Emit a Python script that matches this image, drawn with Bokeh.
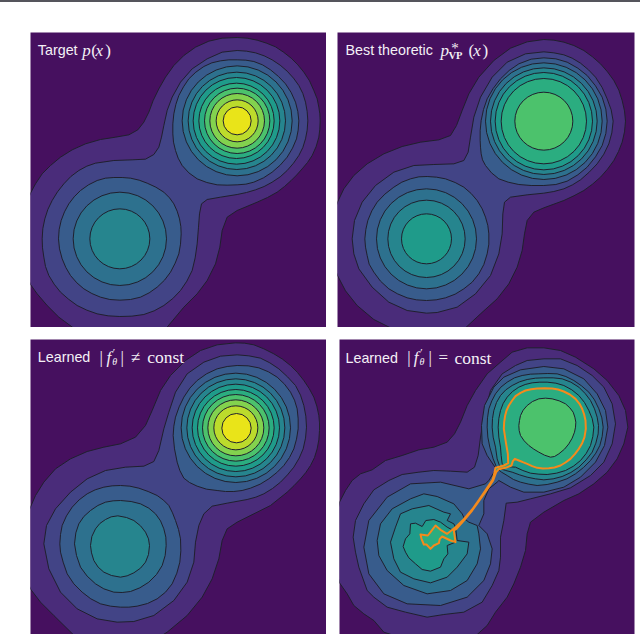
from bokeh.embed import file_html
from bokeh.resources import INLINE
from bokeh.models import ColumnDataSource, Range1d, Div
from bokeh.layouts import column, row
from bokeh.plotting import figure

# Band colours (level 0 = background ... level 11 = peak)
BAND = ["#46105f", "#4a2c7a", "#424486", "#385c8c", "#2d718e", "#26858e",
        "#1f9b8a", "#2bad80", "#4cc26c", "#83d24e", "#bcdb2c", "#e9e419"]
CONTOUR = "#20202e"
ORANGE = "#f58a1c"

# ---------- Panel 1: Target p(x) (coordinates in 1/3 px of the picture)
P1_L1 = [(90,578),(105,550),(125,520),(150,495),(180,470),(215,448),(255,430),(300,417),(345,410),(385,403),(412,388),(430,365),(445,335),(458,300),(475,265),(495,230),(520,195),(550,165),(585,140),(625,122),(665,113),(710,111),(740,113),(770,119),(798,128),(825,139),(849,155),(872,173),(892,193),(910,215),(927,241),(940,270),(950,295),(955,320),(958,340),(959,361),(958,386),(955,410),(947,438),(935,465),(921,486),(905,505),(889,523),(872,540),(852,558),(830,575),(801,591),(770,605),(710,630),(680,650),(665,690),(658,740),(645,790),(620,840),(590,880),(550,920),(499,981),(430,1005),(358,1016),(290,1008),(217,981),(175,950),(140,915),(110,880),(90,852),(70,800),(57,715),(70,630)]
P1_L2 = [(125,715),(127,684),(133,655),(142,627),(155,600),(171,574),(190,550),(211,528),(235,510),(259,497),(285,488),(340,480),(395,478),(435,476),(460,462),(475,440),(483,410),(490,375),(500,330),(515,290),(540,245),(575,205),(620,175),(665,155),(710,150),(738,152),(765,157),(791,166),(815,178),(839,194),(860,212),(879,233),(895,255),(907,279),(915,305),(920,333),(922,361),(920,389),(915,415),(907,441),(895,465),(879,488),(860,510),(839,529),(815,545),(791,558),(765,568),(738,576),(710,582),(660,590),(620,597),(603,610),(597,640),(594,680),(590,730),(584,772),(575,810),(559,842),(540,870),(517,894),(490,915),(461,931),(430,942),(394,947),(358,948),(323,946),(290,940),(259,929),(230,915),(204,896),(180,875),(161,851),(145,825),(135,798),(130,770),(126,742)]
P1_L3A = [(174,715),(176,687),(182,660),(192,634),(205,610),(221,589),(240,570),(264,553),(290,540),(315,533),(340,531),(365,531),(390,533),(416,539),(440,548),(466,560),(490,575),(507,592),(520,610),(530,632),(537,655),(541,678),(542,700),(540,731),(535,760),(524,788),(510,815),(492,839),(470,860),(446,877),(420,890),(390,897),(358,899),(328,897),(300,890),(274,879),(250,865),(229,847),(210,825),(196,801),(185,775),(177,745)]
P1_L3B = [(517,400),(517,370),(520,340),(526,312),(535,285),(549,259),(565,235),(586,215),(610,198),(634,187),(660,181),(685,178),(710,178),(736,179),(760,183),(786,193),(810,208),(834,228),(855,250),(872,276),(885,305),(892,333),(895,361),(893,389),(888,415),(876,443),(860,470),(839,494),(815,515),(789,532),(760,545),(736,551),(710,553),(680,554),(650,553),(619,546),(590,535),(565,517),(545,495),(533,473),(525,450),(519,425)]
P1_LEFT = [(4, 358, 715, 140), (5, 358, 715, 90)]
P1_RIGHT = [(4, 710, 361, 165), (5, 709, 361, 146), (6, 708, 361, 130), (7, 708, 361, 113), (8, 710, 361, 98), (9, 710, 361, 82), (10, 710, 361, 63), (11, 710, 361, 42)]

# ---------- Panel 2: Best theoretic
P2_L1 = [(21,545),(40,505),(70,465),(110,430),(160,400),(215,378),(270,365),(325,358),(360,345),(378,315),(395,270),(415,220),(445,170),(490,120),(540,83),(590,64),(640,57),(670,59),(700,65),(730,75),(760,90),(786,109),(810,130),(831,154),(850,180),(865,209),(875,240),(882,271),(885,302),(882,334),(875,365),(864,393),(850,420),(831,446),(810,470),(786,491),(760,510),(730,526),(700,540),(640,562),(610,575),(590,600),(582,640),(575,690),(560,740),(535,790),(500,835),(450,880),(405,922),(340,940),(288,944),(236,940),(180,922),(130,897),(80,855),(45,811),(21,765),(5,720),(-1,655),(5,590)]
P2_L2 = [(65,655),(72,600),(95,545),(135,495),(190,455),(250,435),(310,432),(370,430),(400,420),(413,395),(420,350),(430,290),(450,230),(485,170),(530,125),(585,100),(640,94),(670,97),(700,103),(725,113),(750,128),(774,148),(795,170),(815,201),(830,235),(842,268),(848,302),(844,337),(835,370),(820,401),(800,430),(776,455),(750,478),(726,493),(700,505),(670,513),(640,518),(590,523),(540,530),(522,545),(517,580),(515,640),(505,700),(480,765),(435,820),(380,860),(320,876),(288,878),(230,870),(175,845),(125,800),(85,745),(70,700)]
P2_L3A = [(103,655),(106,627),(112,600),(124,571),(140,545),(163,521),(190,500),(214,485),(240,475),(265,469),(290,468),(318,470),(345,475),(374,486),(400,500),(422,519),(440,540),(455,565),(465,590),(472,615),(475,640),(475,671),(470,700),(460,732),(445,760),(425,785),(400,805),(374,821),(345,832),(317,838),(288,840),(258,838),(230,832),(201,820),(175,805),(150,782),(130,755),(116,731),(110,705),(105,680)]
P2_L3B = [(449,360),(449,330),(452,300),(459,267),(470,235),(488,204),(510,175),(536,150),(565,130),(602,116),(640,112),(676,115),(710,125),(742,143),(770,165),(795,196),(815,230),(826,266),(830,302),(826,339),(815,375),(795,409),(770,440),(742,463),(710,482),(676,492),(640,495),(602,495),(565,492),(533,485),(505,475),(483,457),(465,435),(456,418),(452,400),(450,380)]
P2_LEFT = [(4, 288, 655, 150), (5, 288, 655, 116), (6, 288, 655, 75)]
P2_RIGHT = [(4, 640, 302, 175), (5, 640, 302, 160), (6, 640, 302, 146), (7, 640, 302, 128), (8, 640, 302, 87)]

# ---------- Panel 3: Learned, not constant
P3_L1 = [(31,512),(45,480),(70,440),(105,400),(150,370),(200,348),(250,335),(300,325),(345,305),(375,270),(395,225),(420,165),(450,120),(495,75),(540,45),(590,28),(645,22),(672,23),(700,28),(730,40),(760,55),(786,71),(810,90),(831,111),(850,135),(866,159),(880,185),(889,212),(895,240),(897,262),(897,285),(895,313),(890,340),(882,366),(870,390),(856,411),(840,430),(821,450),(800,470),(750,510),(700,535),(650,560),(620,580),(605,615),(595,670),(575,730),(545,785),(500,840),(440,890),(400,915),(300,930),(200,915),(158,897),(100,840),(60,800),(31,762),(5,700),(0,620),(10,560)]
P3_L2 = [(70,625),(78,570),(105,520),(150,470),(200,430),(255,405),(315,395),(370,392),(400,378),(415,345),(430,280),(445,230),(465,170),(500,115),(550,80),(600,62),(650,58),(685,61),(720,68),(748,82),(775,100),(801,124),(825,150),(840,179),(850,210),(856,242),(858,275),(855,308),(848,340),(836,368),(820,395),(801,418),(780,440),(756,459),(730,475),(706,485),(680,492),(620,503),(575,512),(550,535),(535,570),(525,620),(520,680),(500,740),(460,795),(400,840),(340,858),(290,860),(230,850),(170,820),(120,770),(85,700)]
P3_L3A = [(118,625),(120,597),(125,570),(138,541),(155,515),(176,493),(200,475),(224,463),(250,455),(275,451),(300,450),(328,452),(355,458),(383,468),(410,480),(429,494),(445,510),(456,532),(465,555),(474,582),(480,610),(481,646),(478,680),(469,713),(455,745),(435,770),(410,790),(381,804),(350,812),(325,815),(300,815),(270,812),(240,805),(211,790),(185,770),(160,745),(140,715),(128,680),(120,650)]
P3_L3B = [(458,300),(460,272),(465,245),(476,214),(490,185),(508,158),(530,135),(558,115),(590,100),(620,93),(650,90),(683,91),(715,97),(744,109),(770,125),(792,146),(810,170),(822,194),(830,220),(833,250),(833,280),(828,311),(820,340),(807,366),(790,390),(769,411),(745,430),(719,446),(690,458),(665,465),(640,468),(615,468),(590,465),(558,461),(530,452),(507,441),(490,428),(478,405),(470,380),(462,340)]
P3_L4A = [(162,625),(166,592),(175,565),(190,543),(210,525),(232,510),(255,500),(278,496),(300,495),(332,498),(360,505),(385,518),(405,535),(420,556),(430,580),(436,605),(437,630),(434,660),(425,690),(408,717),(385,740),(358,757),(330,768),(305,771),(280,770),(250,760),(225,745),(200,722),(180,695),(168,660)]
P3_L5A = [(210,630),(214,603),(225,580),(238,564),(255,552),(272,544),(292,541),(318,546),(340,555),(360,571),(375,590),(384,610),(387,630),(384,657),(375,680),(360,698),(340,712),(320,721),(300,725),(273,720),(250,710),(233,695),(220,675),(213,652)]
P3_RIGHT = [(4, 646, 277, 164), (5, 646, 277, 147), (6, 646, 277, 131), (7, 646, 277, 115), (8, 646, 277, 100), (9, 646, 277, 84), (10, 646, 277, 66), (11, 648, 278, 44)]

# ---------- Panel 4: Learned, constant
P4_L1 = [(27,515),(45,480),(65,450),(90,430),(125,418),(165,390),(215,375),(265,358),(310,350),(350,335),(372,310),(390,275),(410,225),(435,180),(470,130),(510,95),(545,65),(590,52),(640,52),(690,60),(735,80),(790,115),(830,150),(865,195),(885,240),(892,290),(880,340),(860,385),(830,425),(790,460),(745,490),(700,510),(640,545),(600,575),(590,610),(585,660),(570,710),(550,760),(530,800),(495,845),(470,885),(440,912),(300,950),(160,905),(130,870),(100,850),(70,825),(50,790),(27,757),(0,650)]
P4_L2 = [(68,620),(75,570),(100,520),(130,478),(175,450),(215,432),(265,425),(310,420),(360,422),(410,425),(432,410),(443,375),(450,320),(462,250),(480,180),(515,130),(555,105),(590,90),(640,85),(690,85),(740,105),(785,135),(820,170),(845,220),(855,280),(845,340),(820,395),(780,435),(720,472),(660,490),(600,505),(560,515),(527,518),(520,570),(510,620),(510,680),(505,720),(485,765),(455,815),(400,845),(340,852),(290,860),(225,845),(170,830),(130,800),(110,780),(85,710),(75,665)]
P4_L3 = [(100,650),(115,570),(170,500),(240,460),(330,455),(415,475),(465,460),(475,450),(497,415),(470,375),(455,340),(453,285),(462,225),(490,170),(520,140),(570,118),(640,108),(700,115),(760,145),(800,190),(825,240),(832,290),(822,345),(795,395),(750,440),(700,470),(640,485),(580,485),(540,470),(505,450),(500,455),(475,475),(460,510),(460,550),(445,585),(470,610),(485,655),(480,700),(460,750),(410,800),(330,825),(230,820),(160,790),(115,730)]
P4_L4A = [(140,630),(150,580),(185,535),(240,505),(280,490),(320,498),(370,520),(395,550),(402,565),(415,575),(440,585),(445,610),(450,655),(440,700),(410,750),(360,780),(290,790),(220,765),(170,720),(145,675)]
P4_L4B = [(470,290),(471,262),(475,235),(484,211),(495,190),(511,170),(530,155),(552,142),(575,135),(600,131),(625,130),(652,129),(680,130),(706,138),(730,150),(753,166),(775,185),(792,208),(805,235),(814,262),(818,290),(815,318),(808,345),(796,368),(780,390),(759,411),(735,430),(709,445),(680,455),(650,462),(620,465),(595,461),(570,455),(549,447),(530,435),(513,425),(500,415),(488,385),(478,350),(472,320)]
P4_L5A = [(180,635),(195,590),(210,550),(245,535),(295,525),(340,545),(360,550),(350,570),(370,580),(375,590),(380,630),(415,635),(410,670),(380,710),(350,740),(300,757),(250,745),(210,725),(190,685)]
P4_L5B = [(485,290),(486,264),(490,240),(498,216),(510,195),(526,178),(545,165),(567,154),(590,147),(615,143),(640,142),(668,142),(695,145),(721,155),(745,170),(764,189),(780,210),(792,235),(800,260),(804,285),(803,310),(796,338),(785,365),(767,388),(745,410),(721,426),(695,438),(668,445),(640,448),(615,445),(590,440),(567,433),(545,425),(526,420),(510,415),(500,385),(495,350),(488,320)]
P4_L6A = [(218,648),(225,625),(238,610),(240,580),(255,578),(275,588),(286,570),(310,567),(330,575),(350,590),(365,598),(375,635),(350,645),(352,670),(340,685),(330,710),(300,722),(275,717),(255,700),(235,682),(225,665)]
P4_L6B = [(503,290),(505,264),(510,240),(518,219),(530,200),(546,183),(565,170),(584,162),(605,157),(628,155),(650,155),(676,158),(700,165),(724,178),(745,195),(762,216),(775,240),(785,264),(790,290),(787,318),(780,345),(767,369),(750,390),(729,407),(705,420),(678,428),(650,432),(625,431),(600,428),(577,420),(555,410),(538,409),(525,410),(515,400),(512,375),(510,350),(505,320)]
P4_L7 = [(495,412),(520,405),(533,398),(532,370),(526,335),(520,295),(521,275),(524,255),(528,240),(535,225),(545,210),(555,197),(570,187),(585,180),(602,176),(620,174),(642,173),(665,174),(683,177),(700,183),(718,192),(735,205),(747,220),(755,235),(761,252),(765,270),(766,295),(762,320),(755,338),(745,355),(733,371),(720,385),(705,396),(690,405),(672,411),(655,413),(637,414),(620,412),(605,407),(590,400),(577,395),(565,390),(553,385),(547,392),(543,405),(525,412),(505,416),(497,425),(488,450),(468,480),(445,512),(425,540),(400,570),(378,595),(370,600),(375,635),(360,630),(335,618),(328,625),(325,638),(310,645),(300,655),(288,642),(280,642),(273,625),(270,612),(292,615),(300,605),(315,585),(330,598),(350,610),(375,590),(400,566),(425,537),(445,509),(466,478),(486,448),(490,435)]
P4_L8 = [(565,285),(567,270),(570,255),(578,239),(590,225),(606,213),(625,205),(645,203),(665,205),(686,211),(705,220),(718,232),(728,245),(733,260),(736,275),(735,290),(732,305),(725,323),(715,340),(702,356),(685,370),(672,378),(660,380),(642,374),(625,365),(610,356),(595,345),(581,331),(570,315),(566,300)]

# ---------- Texts: (text, x, y, font, style, size)
SANS, SERIF = "Liberation Sans", "Liberation Serif"
P1_TEXT = [("Target", 112, 149, SANS, "normal", "14.3px"), ("p", 245, 149, SERIF, "italic", "17px"),
           ("(", 272, 149, SERIF, "normal", "17px"), ("x", 285, 149, SERIF, "italic", "17px"), (")", 314, 149, SERIF, "normal", "17px")]
P2_TEXT = [("Best theoretic", 45, 89, SANS, "normal", "14.3px"), ("p", 330, 89, SERIF, "italic", "17px"),
           ("*", 362, 83, SERIF, "normal", "15px"), ("VP", 354, 104, SERIF, "bold", "10.5px"),
           ("(", 414, 89, SERIF, "normal", "17px"), ("x", 428, 89, SERIF, "italic", "17px"), (")", 456, 89, SERIF, "normal", "17px")]
P3_TEXT = [("Learned", 52, 65, SANS, "normal", "14.3px"), ("|", 237, 65, SERIF, "normal", "17px"),
           ("f", 258, 65, SERIF, "italic", "17px"), ("\u2032", 277, 49, SERIF, "normal", "11px"), ("\u03b8", 275, 77, SERIF, "italic", "10px"),
           ("|", 300, 65, SERIF, "normal", "17px"), ("\u2260", 331, 65, SERIF, "normal", "17px"), ("const", 380, 65, SERIF, "normal", "17.5px")]
P4_TEXT = [("Learned", 45, 81, SANS, "normal", "14.3px"), ("|", 230, 81, SERIF, "normal", "17px"),
           ("f", 250, 81, SERIF, "italic", "17px"), ("\u2032", 269, 65, SERIF, "normal", "11px"), ("\u03b8", 267, 93, SERIF, "italic", "10px"),
           ("|", 294, 81, SERIF, "normal", "17px"), ("=", 324, 81, SERIF, "normal", "17px"), ("const", 372, 81, SERIF, "normal", "17.5px")]


def panel(x_range, y_range, left, top, right, size_w, size_h, loops, rings, texts, orange=None):
    p = figure(width=left + size_w + right, height=top + size_h,
               x_range=Range1d(*x_range), y_range=Range1d(*y_range),
               output_backend="svg", toolbar_location=None,
               min_border_left=left, min_border_right=right,
               min_border_top=top, min_border_bottom=0,
               background_fill_color=BAND[0], border_fill_color="white")
    p.axis.visible = False
    p.grid.visible = False
    p.outline_line_color = None
    items = [(lv, "poly", pts) for lv, pts in loops] + [(r[0], "ring", r) for r in rings]
    items.sort(key=lambda it: it[0])
    for lv, kind, d in items:
        if kind == "poly":
            xs = [q[0] for q in d] + [d[0][0]]
            ys = [q[1] for q in d] + [d[0][1]]
            is_orange = orange is not None and d is orange
            p.patch(xs, ys, fill_color=BAND[lv],
                    line_color=ORANGE if is_orange else CONTOUR,
                    line_width=2.0 if is_orange else 1.0,
                    line_join="round")
        else:
            _, cx, cy, rad = d
            p.ellipse(x=[cx], y=[cy], width=[2 * rad], height=[2 * rad], fill_color=BAND[lv],
                      line_color=CONTOUR, line_width=1.0)
    src = ColumnDataSource(dict(t=[a[0] for a in texts], x=[a[1] for a in texts], y=[a[2] for a in texts],
                                f=[a[3] for a in texts], st=[a[4] for a in texts], sz=[a[5] for a in texts]))
    p.text(x="x", y="y", text="t", source=src, text_color="#f4f0f6", text_font="f",
           text_font_style="st", text_font_size="sz", text_baseline="alphabetic", text_align="left")
    return p


p1 = panel((90, 978), (981, 96), 30, 30, 0, 296, 295,
           [(1, P1_L1), (2, P1_L2), (3, P1_L3A), (3, P1_L3B)], P1_LEFT + P1_RIGHT, P1_TEXT)
p2 = panel((21, 912), (921, 36), 11, 30, 6, 297, 295,
           [(1, P2_L1), (2, P2_L2), (3, P2_L3A), (3, P2_L3B)], P2_LEFT + P2_RIGHT, P2_TEXT)
p3 = panel((30, 918), (897, 12), 30, 12, 0, 296, 295,
           [(1, P3_L1), (2, P3_L2), (3, P3_L3A), (3, P3_L3B), (4, P3_L4A), (5, P3_L5A)], P3_RIGHT, P3_TEXT)
p4 = panel((27, 912), (912, 27), 13, 12, 6, 295, 295,
           [(1, P4_L1), (2, P4_L2), (3, P4_L3), (4, P4_L4A), (4, P4_L4B), (5, P4_L5A), (5, P4_L5B),
            (6, P4_L6A), (6, P4_L6B), (7, P4_L7), (8, P4_L8)], [], P4_TEXT, orange=P4_L7)

top_rule = Div(text="", width=640, height=2, margin=0, styles={"background": "#55555c"})
page = column(top_rule, row(p1, p2, spacing=0), row(p3, p4, spacing=0), spacing=0, margin=0)

open("out.html", "w").write(file_html(page, INLINE))
